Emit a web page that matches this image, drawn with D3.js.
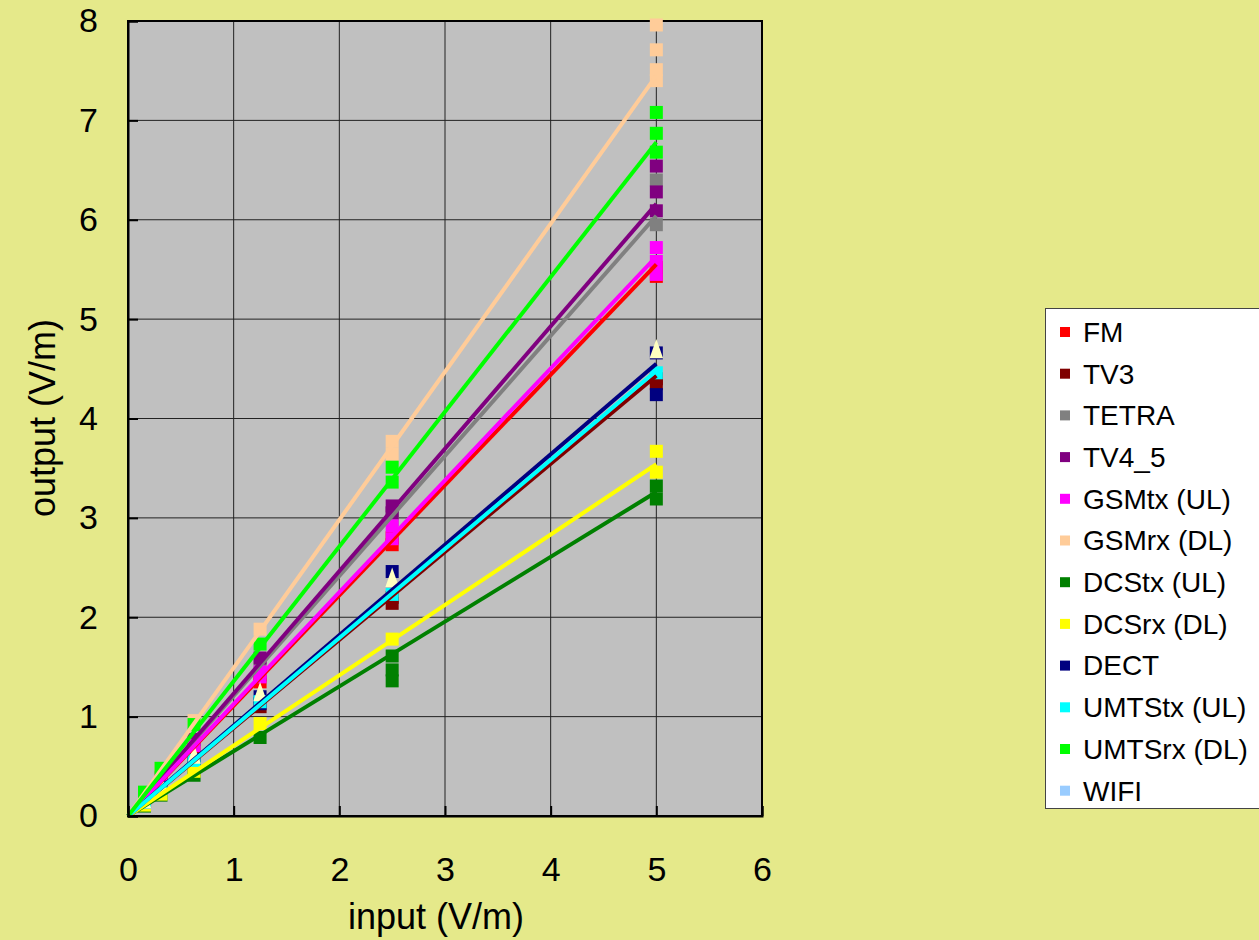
<!DOCTYPE html>
<meta charset="utf-8">
<style type="text/css">
body { margin: 0; background: #e5e98a; }
text { font-family: "Liberation Sans", Arial, sans-serif; fill: #000; }
.grid line { stroke: #222; stroke-width: 1px; }
.trend { fill: none; stroke-width: 4px; }
</style>
<body>
<script src="https://cdn.jsdelivr.net/npm/d3@7"></script>
<script>
// input field strengths (V/m)
var inputs = [0.15625, 0.3125, 0.625, 1.25, 2.5, 5];

// measured outputs per input (several readings at some inputs)
var FM     = [[0.17], [0.35], [0.69], [1.35, 1.42], [2.73, 2.80], [5.43, 5.52]];
var TV3    = [[0.14], [0.28], [0.56], [1.10], [2.14, 2.20], [4.35, 4.40]];
var TETRA  = [[0.19], [0.38], [0.76], [1.52], [2.98, 3.05], [5.95, 6.40]];
var TV4_5  = [[0.19], [0.39], [0.77], [1.59], [3.05, 3.12], [6.09, 6.28, 6.54]];
var GSMtx  = [[0.18], [0.36], [0.71], [1.40, 1.45], [2.79, 2.92], [5.45, 5.58, 5.72]];
var GSMrx  = [[0.23], [0.47], [0.96], [1.88], [3.64, 3.77], [7.40, 7.51, 7.71, 7.96]];
var DCStx  = [[0.10], [0.21], [0.41], [0.79], [1.36, 1.47, 1.61], [3.19, 3.32]];
var DCSrx  = [[0.11], [0.22], [0.45], [0.93], [1.78], [3.46, 3.67]];
var DECT   = [[0.14], [0.29], [0.57], [1.13, 1.20], [2.46], [4.24, 4.66]];
var UMTStx = [[0.14], [0.28], [0.56], [1.15], [2.23], [4.46]];
var UMTSrx = [[0.24], [0.48], [0.92], [1.73], [3.36, 3.51], [6.68, 6.87, 7.08]];
var WIFI   = [[], [], [], [], [], []];
var extra  = [[0.15], [0.30], [0.60], [1.23], [2.38], [4.68]]; // triangles, not in legend

// trendline value at input = 5
var trendAt5 = [5.55, 4.43, 6.04, 6.16, 5.63, 7.45, 3.26, 3.54, 4.55, 4.48, 6.78, null];

var names  = ["FM", "TV3", "TETRA", "TV4_5", "GSMtx (UL)", "GSMrx (DL)", "DCStx (UL)", "DCSrx (DL)", "DECT", "UMTStx (UL)", "UMTSrx (DL)", "WIFI"];
var colors = ["#ff0000", "#800000", "#808080", "#800080", "#ff00ff", "#ffcc99", "#008000", "#ffff00", "#000080", "#00ffff", "#00ff00", "#99ccff"];
var values = [FM, TV3, TETRA, TV4_5, GSMtx, GSMrx, DCStx, DCSrx, DECT, UMTStx, UMTSrx, WIFI];

var margin = {top: 21, left: 128},
    width = 634, height = 795;

var svg = d3.select("body").append("svg")
    .attr("width", 1259).attr("height", 940);

var g = svg.append("g")
    .attr("transform", "translate(" + margin.left + "," + margin.top + ")");

var x = d3.scaleLinear().domain([0, 6]).range([0, width]);
var y = d3.scaleLinear().domain([0, 8]).range([height, 0]);

g.append("rect").attr("width", width).attr("height", height).attr("fill", "#c0c0c0");

// grid
var grid = g.append("g").attr("class", "grid");
grid.selectAll(".gx").data(d3.range(1, 6)).enter().append("line")
    .attr("x1", d => x(d)).attr("x2", d => x(d)).attr("y1", 0).attr("y2", height);
grid.selectAll(".gy").data(d3.range(1, 8)).enter().append("line")
    .attr("y1", d => y(d)).attr("y2", d => y(d)).attr("x1", 0).attr("x2", width);

g.append("rect").attr("width", width).attr("height", height)
    .attr("fill", "none").attr("stroke", "#000").attr("stroke-width", 2);

// flatten readings to points
function points(arr) {
  var out = [];
  arr.forEach(function(list, i) {
    list.forEach(function(v) { out.push({x: inputs[i], y: v}); });
  });
  return out;
}

// square markers
values.forEach(function(arr, k) {
  g.append("g").selectAll("rect").data(points(arr)).enter().append("rect")
    .attr("x", d => x(d.x) - 6.5).attr("y", d => y(d.y) - 6.5)
    .attr("width", 13).attr("height", 13)
    .attr("fill", colors[k]);
});

// triangle markers
g.append("g").selectAll("path").data(points(extra)).enter().append("path")
  .attr("d", d3.symbol().type(d3.symbolTriangle).size(110))
  .attr("transform", d => "translate(" + x(d.x) + "," + (y(d.y) + 1) + ") scale(0.85,1.4)")
  .attr("fill", "#ffffc0");

// trendlines through origin
trendAt5.forEach(function(v, k) {
  if (v == null) return;
  g.append("line").attr("class", "trend")
    .attr("x1", x(0)).attr("y1", y(0))
    .attr("x2", x(5)).attr("y2", y(v))
    .attr("stroke", colors[k]);
});

// axes
var xAxis = g.append("g").attr("transform", "translate(0," + height + ")")
    .call(d3.axisBottom(x).ticks(6).tickSize(-10).tickPadding(41));
var yAxis = g.append("g")
    .call(d3.axisLeft(y).ticks(8).tickSize(-10).tickPadding(30));
[xAxis, yAxis].forEach(function(a) {
  a.attr("font-family", null).attr("font-size", null);
  a.select(".domain").attr("stroke", "#000").attr("stroke-width", 2);
  a.selectAll(".tick line").attr("stroke", "#000").attr("stroke-width", 2);
  a.selectAll(".tick text").attr("font-size", 34);
});

svg.append("text").attr("x", 436).attr("y", 929).attr("text-anchor", "middle")
  .attr("font-size", 36).text("input (V/m)");
svg.append("text").attr("transform", "translate(55,418) rotate(-90)").attr("text-anchor", "middle")
  .attr("font-size", 36).text("output (V/m)");

// legend
var leg = svg.append("g").attr("transform", "translate(1045.5,308.5)");
leg.append("rect").attr("width", 230).attr("height", 500)
  .attr("fill", "#fff").attr("stroke", "#444").attr("stroke-width", 1);
var item = leg.selectAll(".item").data(names).enter().append("g")
  .attr("transform", (d, i) => "translate(0," + (23.5 + i * 41.7) + ")");
item.append("rect").attr("x", 14.5).attr("y", -5).attr("width", 10).attr("height", 10)
  .attr("fill", (d, i) => colors[i]);
item.append("text").attr("x", 37.5).attr("dy", "0.35em").attr("font-size", 28).text(d => d);
</script>
</body>
